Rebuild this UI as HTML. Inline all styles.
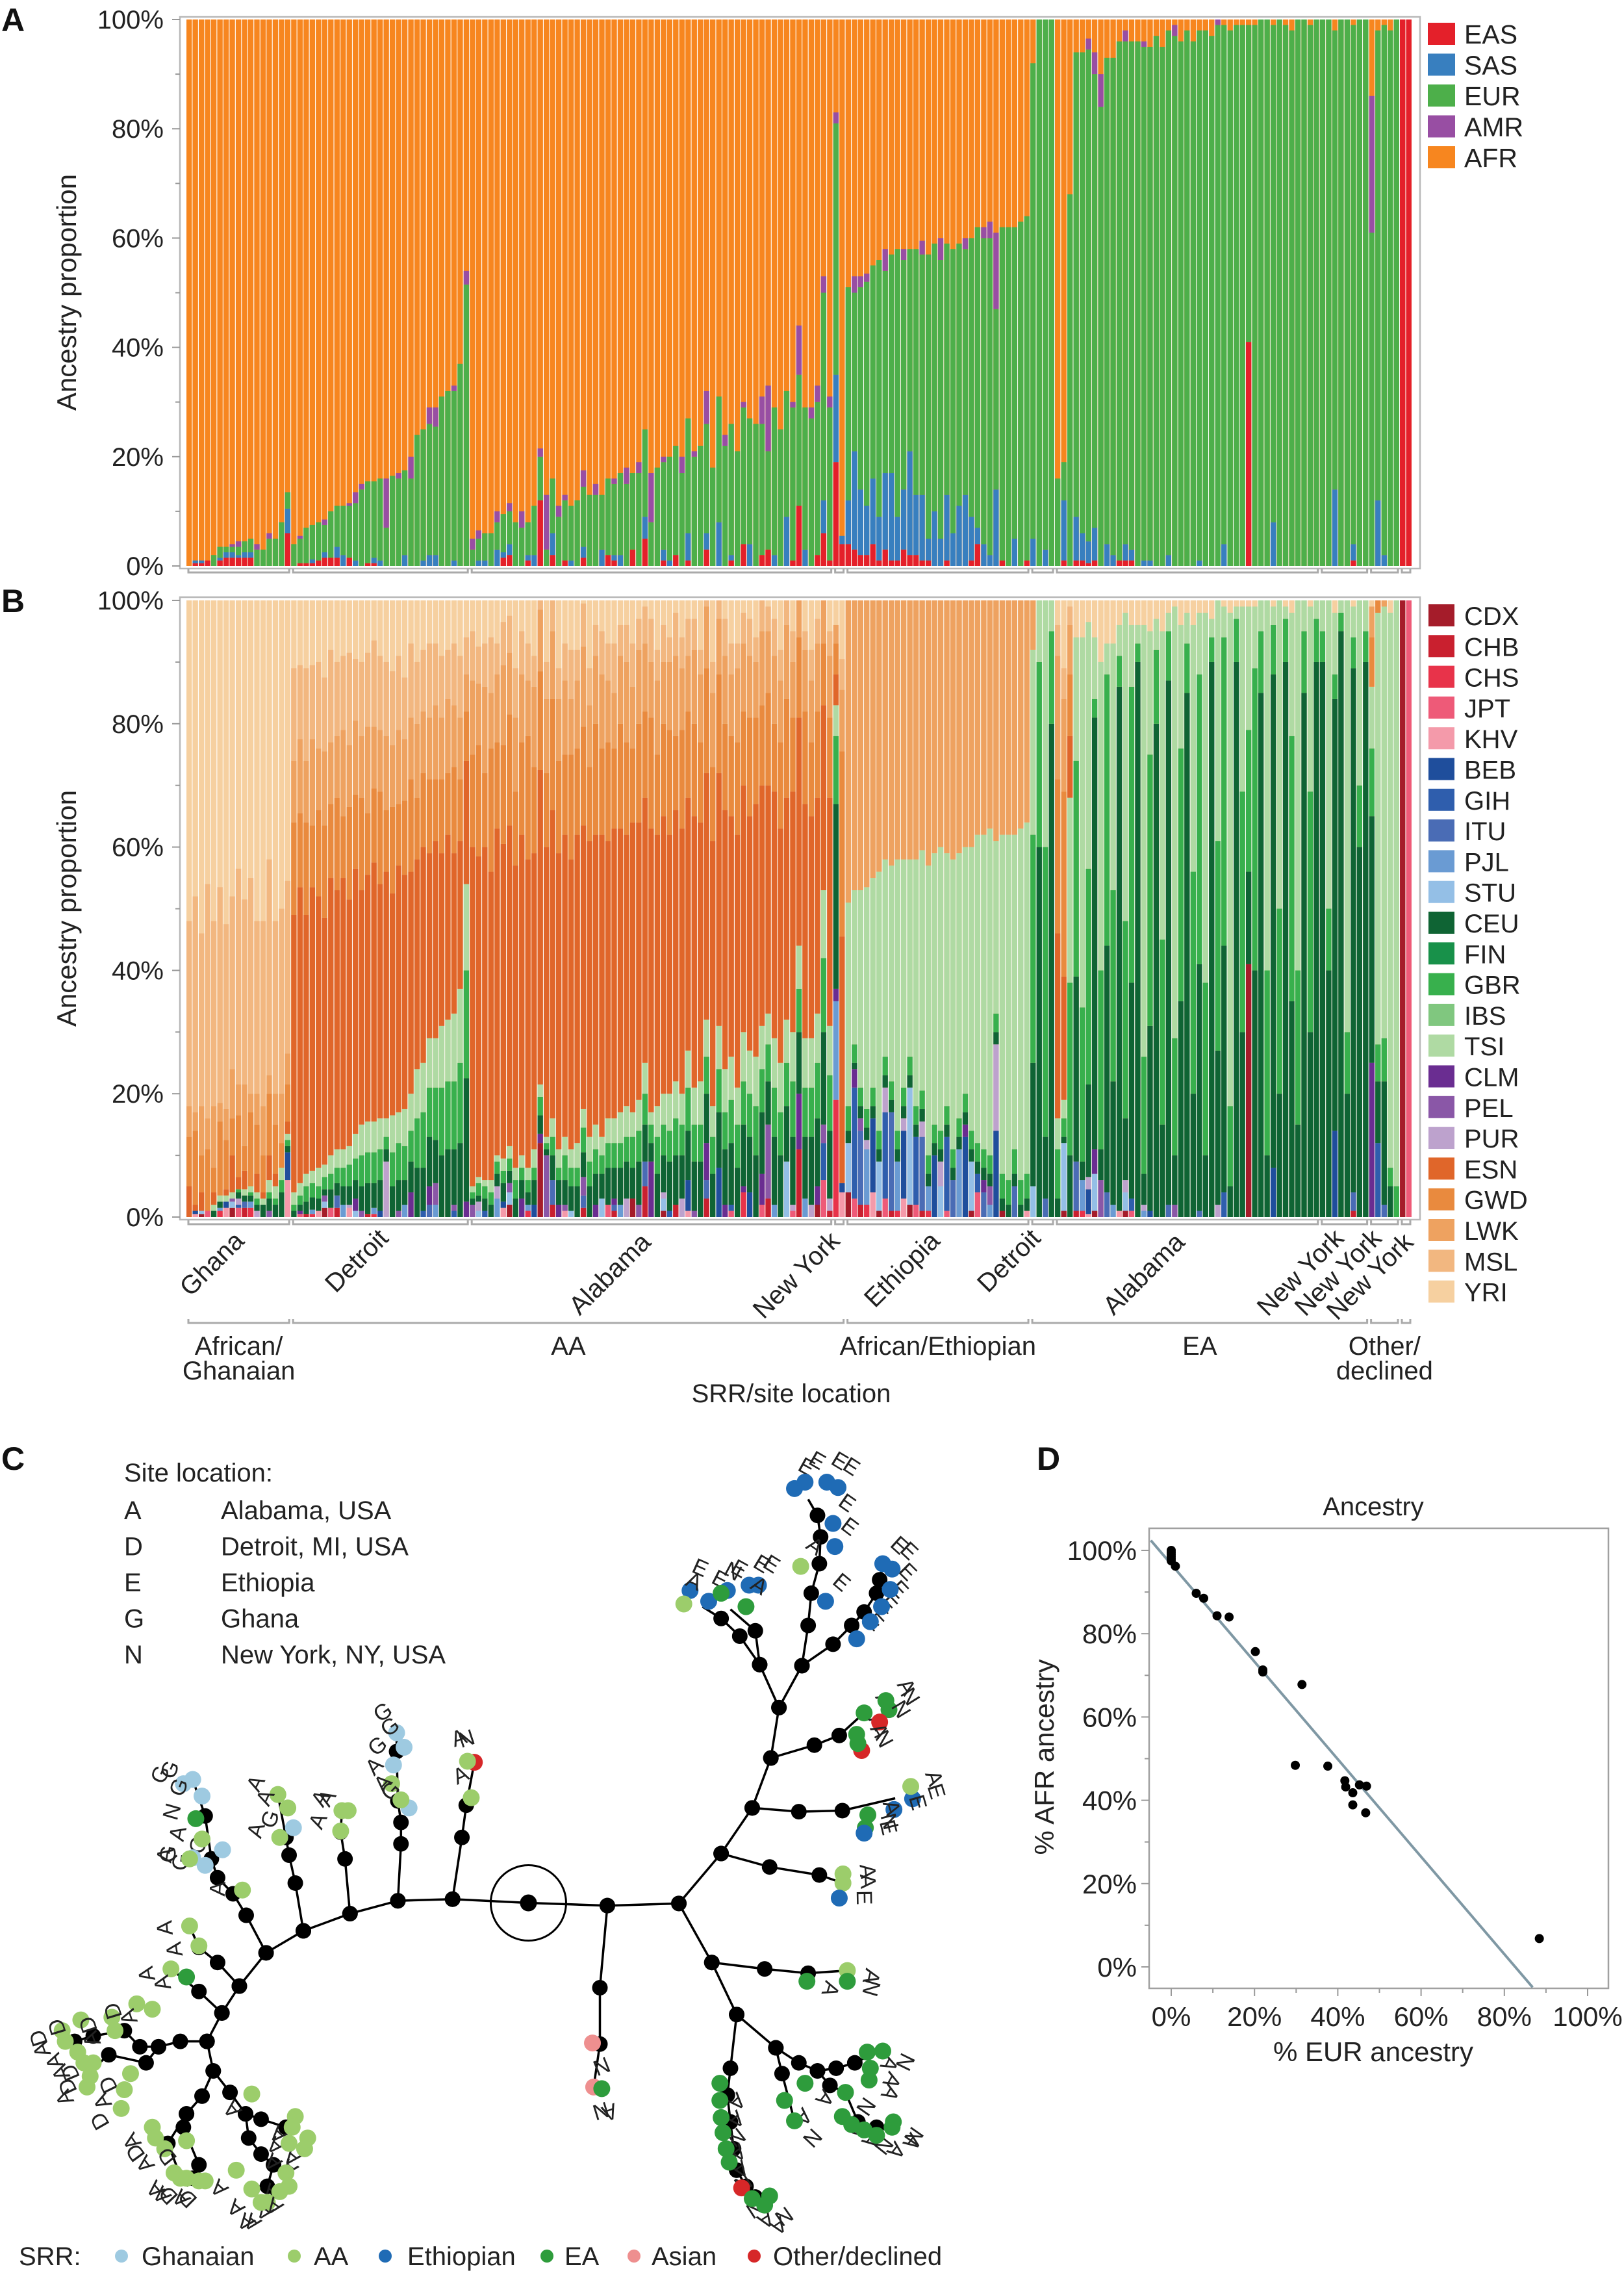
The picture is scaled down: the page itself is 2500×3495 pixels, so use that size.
<!DOCTYPE html>
<html><head><meta charset="utf-8">
<style>
html,body{margin:0;padding:0;background:#fff;}
svg{display:block;font-family:"Liberation Sans",Arial,sans-serif;}
</style></head>
<body>
<svg id="fig" xmlns="http://www.w3.org/2000/svg" width="2500" height="3495" viewBox="0 0 2500 3495"></svg>
<script>
// ---------- Panel A data (percent) ----------
const groupSizes=[17,29,59,2,30,4,43,8,5,2];
const siteLabels=["Ghana","Detroit","Alabama","New York","Ethiopia","Detroit","Alabama","New York","New York","New York"];
const superSizes=[17,90,30,55,5,2];
const superLabels=[["African/","Ghanaian"],["AA"],["African/Ethiopian"],["EA"],["Other/","declined"],[]];
const z=n=>Array(n).fill(0);
const eas=[
0,.5,.5,1,0,1,1.5,1.5,1.5,1.5,1.5,0,0,0,0,0,6,
0,.5,.5,.5,1,1.5,1.5,1.5,0,1.5,0,0,.5,.5,0,0,0,0,0,0,0,0,0,0,0,0,0,0,0,
0,0,0,0,0,1.5,2,0,0,1,0,12,0,2,0,1,0,0,1.5,0,0,0,2,1,0,0,3,0,5,0,0,1,0,2,0,1,0,0,3,0,0,0,1,0,4,0,0,2,3,0,0,0,1,11,0,0,2,6,1,
19,4,
4,3,2,2,4,1,3,1,1,3,2,2,1,1,0,0,1,0,0,0,1,4,0,0,0,1,0,0,0,1,
0,0,0,0,
0,1,0,1,1,.5,1,0,0,0,1,1,1,0,0,0,0,0,0,0,0,0,0,0,0,0,0,0,0,0,0,41,0,0,0,0,0,0,0,0,0,0,0,
0,0,0,0,0,1,0,0,
0,0,0,0,0,
100,100];
const sas=[
0,.5,.5,0,0,.5,1,1,.5,1,1,0,0,0,0,0,4.5,
0,0,0,.7,0,1,0,2,2,0,1,0,0,1,1,0,0,0,2,0,0,1,2,2,0,0,1,0,0,
0,1,1,0,3,1,2,0,0,1,2,0,0,4,0,0,1,0,2,0,0,3,0,1,2,0,0,0,4,0,0,2,1,0,0,5,0,0,3,0,8,0,1,0,0,4,0,0,0,2,0,9,0,0,3,0,0,6,0,
16,1.5,
8,18,12,9,12,8,14,16,8,11,19,11,12,4,10,5,12,6,11,13,8,3,4,2,14,0,0,5,0,0,
5,0,3,0,
0,11,0,8,5,4,6,0,4,2,0,3,2,0,1,1,0,0,2,0,0,0,0,1,0,0,0,4,0,0,0,0,0,0,0,8,0,0,0,0,0,0,0,
0,0,14,0,0,3,0,0,
0,12,2,0,0,
0,0];
const eur=[
0,0,0,0,2,2,1,1,1.5,2,2.5,3,3,5,5,8,3,
4,4.5,6.5,6.3,7,5,8.5,7.5,9,9.5,10.5,14,15,14,15,7,16.5,16,15.5,16,24,24,24,23.5,31,32,31,37,51.5,
3,4,5,6,5,7,6,8,7,6,9,8,3,10,9,11,10,12,11,13,13,10,14,13,15,15,14,17,16,8,18,16,19,20,17,21,20,22,20,18,23,22,24,21,25,23,26,24,18,27,25,23,28,24,26,27,28,38,28,
46,0,
39,29,37,41,39,47,37,40,49,42,37,45,44,52,49,51,46,52,48,45,51,55,56,58,33,61,62,57,63,63,
87,100,97,100,
16,7,68,85,88,90,83,84,89,91,95,92,93,96,94,94,97,95,96,97,96,98,96,97,98,97,99,95,98,99,99,58,99,100,100,91,100,99,98,100,100,99,100,
100,100,84,100,100,95,100,100,
61,86,97,98,100,
0,0];
const amr=[
0,0,0,0,0,0,0,.5,1,0,0,1,0,1,0,0,0,
0,.5,0,0,0,1,0,0,0,.5,2,1,0,0,0,9,0,1,0,4,0,0,3,3.5,0,0,1,0,2.5,
2,1.5,0,0,2,0,1.5,0,3,0,0,1.5,10,0,2,1,0,0,3,0,2,0,0,1,0,3,0,2,0,9,0,1,0,0,3,0,1,0,6,0,0,2,0,0,1,0,0,5,12,0,0,0,1,9,0,2,3,3,2,
2,0,
0,3,2,1.5,0,0,4,0,0,2,0,0,2.5,0,0,4,0,0,0,2,0,0,2,3,14,0,0,0,0,0,
0,0,0,0,
0,0,0,0,0,2,4,6,0,0,0,2,0,0,1,0,0,0,0,2,0,0,0,0,0,0,2,0,0,0,0,0,0,0,0,0,0,0,0,0,0,0,0,
0,0,0,0,0,0,0,0,
25,0,0,0,0,
0,0];
// ---------- Panel B data (percent, sub-populations) ----------
const bCeu=[
0,0,0,0,1,1,0,0,1,1,1,1,2,2,2,4,1,
1,1,2,2,2,1,3,2,3,3,3,4,5,4,5,2,5,5,4,5,8,7,8,7,10,11,9,12,20,
1,1,2,2,2,3,2,3,3,2,4,3,1,4,4,4,4,5,4,5,5,4,6,5,6,6,5,7,6,3,7,6,8,8,7,8,8,9,8,7,9,9,10,8,10,9,10,10,7,11,10,9,11,10,10,11,11,15,11,
30,0,
2,1,2,2,2,2,2,2,2,2,2,2,2,2,2,2,2,2,2,2,2,2,2,2,2,2,2,2,2,2,
20,60,10,80,
3,1,10,30,3,15,70,5,40,20,85,10,35,90,5,30,80,15,85,8,35,85,20,40,10,90,25,40,5,90,30,15,40,85,10,80,20,90,35,15,85,30,90,
90,40,70,95,20,85,60,90,
40,10,20,5,0,
0,0];
const bTsi=[
0,0,0,0,1,1,1,1,0,1,1,1,1,2,2,2,1,
2,2,2,2,3,2,3,3,3,3,4,5,5,5,5,3,6,5,6,6,8,8,8,8,10,10,11,12,14,
1,1,1,2,1,2,2,2,2,2,3,2,1,3,3,3,3,4,3,4,4,3,4,4,5,5,4,5,5,2,5,5,6,6,5,6,6,7,6,5,7,7,7,6,8,7,8,7,5,8,8,7,8,7,8,8,8,11,8,
5,0,
33,25,32,36,34,42,32,35,44,37,32,40,39,47,44,46,41,47,43,40,46,50,51,53,28,55,56,51,57,57,
30,10,40,5,
5,3,30,20,60,40,10,50,5,40,5,50,10,3,70,20,5,50,3,70,20,5,40,10,60,3,40,5,80,2,30,20,10,5,60,3,50,2,20,60,5,30,3,
5,50,10,2,70,5,30,5,
10,70,70,90,95,
0,0];
const bEsn=[
5,1,3,0,2,0,1,6,2,3,0,3,1,4,2,0,2,
45,48,42,46,44,40,45,42,44,40,43,38,40,42,38,40,36,40,38,36,34,35,30,32,28,30,26,24,20,
55,52,54,50,53,51,52,49,52,50,48,51,47,50,48,49,47,50,46,48,47,49,45,47,46,44,47,45,43,46,44,45,42,44,43,41,44,42,40,43,41,42,39,41,40,38,41,39,37,40,38,36,39,37,38,36,35,30,37,
5,40,
...z(30),
0,0,0,0,
30,20,10,...z(40),
...z(8),
0,0,0,0,0,
0,0];
const bGwd=[
8,12,6,10,4,12,8,6,10,4,12,8,6,10,8,4,6,
15,12,15,10,14,15,12,15,10,15,12,15,10,12,15,10,14,10,12,15,10,12,12,10,12,10,14,10,8,
15,18,12,20,14,16,18,12,15,20,14,16,12,18,15,13,17,14,16,12,18,14,16,13,17,15,12,16,14,18,13,15,17,12,16,14,15,13,17,12,16,14,13,15,12,16,14,13,15,11,14,16,12,13,15,12,14,10,13,
5,30,
...z(30),
0,0,0,0,
25,30,10,...z(40),
...z(8),
8,3,0,0,0,
0,0];
const bLwk=[
5,3,8,5,10,3,5,8,5,10,3,5,8,3,5,8,5,
10,12,10,14,10,12,10,10,14,10,12,10,14,10,10,12,10,12,10,10,12,10,10,12,10,12,10,10,6,
12,10,14,9,11,13,10,12,11,9,13,10,12,11,10,12,9,11,13,10,11,12,10,9,11,13,10,12,11,9,12,10,11,13,10,9,12,11,10,12,9,11,10,12,11,10,9,12,10,11,10,12,9,11,10,10,11,8,10,
3,10,
49,47,47,46.5,45,44,42,43,42,42,42,42,40.5,43,41,40,41,42,41,40,40,38,38,37,39,38,38,38,37,36,
8,0,0,0,
20,15,8,...z(40),
...z(8),
5,2,1,0,0,
0,0];
const bMsl=[
30,35,28,38,30,35,30,28,35,30,35,28,30,35,28,30,28,
15,12,15,12,14,12,15,12,12,15,10,12,12,14,12,12,12,12,10,12,10,10,12,10,10,8,10,10,6,
8,6,7,9,5,7,6,8,7,6,5,8,6,7,5,6,8,5,7,6,5,7,6,8,5,6,7,5,6,7,5,6,4,7,5,6,5,4,6,5,4,6,5,4,5,6,4,5,4,6,5,4,5,4,3,5,4,3,4,
0,5,
...z(30),
0,0,0,0,
5,5,3,...z(40),
...z(8),
0,0,0,0,0,
0,0];
// ---------- Panel D data ----------
const dEur=[0,0,0,0,0,0,1,6,7.8,11,13.9,20.2,22,22,31.4,29.8,37.6,41.7,41.9,43.6,43.6,45.2,46.9,46.7,88.4];
const dAfr=[100,99.5,99,98.5,98,97.5,96.2,89.7,88.5,84.3,84,75.7,71.3,70.8,67.8,48.4,48.2,44.7,43.2,41.8,38.9,43.7,43.4,37,6.8];
const fitX=[-4.9,86.8];
const fitY=[102.4,-4.9];
const dTicks=[0,20,40,60,80,100];

const NS='http://www.w3.org/2000/svg';
const svg=document.getElementById('fig');
function mk(tag,a,parent){const e=document.createElementNS(NS,tag);for(const k in a)e.setAttribute(k,a[k]);(parent||svg).appendChild(e);return e;}
function txt(s,a,parent){const e=mk('text',a,parent);e.textContent=s;return e;}

const cA={EAS:'#e4202a',SAS:'#387fbf',EUR:'#4daf4a',AMR:'#984ea3',AFR:'#f7861f'};
const cB={CDX:'#a51c2a',CHB:'#c9202f',CHS:'#e8334a',JPT:'#ee5a78',KHV:'#f49aaa',BEB:'#1f4e9c',GIH:'#2f5ead',ITU:'#4a6cb5',PJL:'#6a9bd3',STU:'#94bfe6',CEU:'#0f6434',FIN:'#18914a',GBR:'#38b04d',IBS:'#80c77f',TSI:'#afdaa3',CLM:'#6a2d91',PEL:'#8a57a7',PUR:'#bda2cd',ESN:'#e0662a',GWD:'#e98a3e',LWK:'#eea260',MSL:'#f2b780',YRI:'#f6d0a0'};

const N=eur.length, X0=287, X1=2174, bw=(X1-X0)/N;
const xBar=i=>X0+i*bw;
const yA=v=>871-v*(871-30)/100;
const yB=v=>1873-v*(1873-924)/100;

function drawStack(i,segs,topColor,yf,g,name){
  const x=xBar(i);
  const bg=mk('rect',{x:x.toFixed(2),y:yf(100),width:(bw-1.1).toFixed(2),height:yf(0)-yf(100),fill:topColor},g);
  
  
  let c=0;
  for(const [v,col] of segs){
    if(!(v>0))continue;
    const nv=Math.min(100,c+v); if(nv<=c)continue;
    const r=mk('rect',{x:x.toFixed(2),y:yf(nv).toFixed(2),width:(bw-1.1).toFixed(2),height:(yf(c)-yf(nv)).toFixed(2),fill:col},g);
    
    
    c=nv;
  }
}
function yAxis(yf,prefix){
  for(let v=0;v<=100;v+=10){
    const major=v%20===0;
    const t=mk('line',{x1:major?265:270,x2:277,y1:yf(v),y2:yf(v),stroke:'#999','stroke-width':2});
    
    
    if(major){const l=txt(v+'%',{x:252,y:yf(v)+14,'text-anchor':'end','font-size':40,fill:'#222'});
      
      }
  }
}
function frame(y0,y1,prefix){
  const f=mk('rect',{x:277,y:y0,width:2186-277,height:y1-y0,fill:'none',stroke:'#b8b8b8','stroke-width':2.5});
  
  
}
function brackets(sizes,y,prefix){
  let s=0;
  for(const n of sizes){
    const a=xBar(s)+3,b=xBar(s+n)-3;
    const p=mk('path',{d:`M${a},${y-6}V${y}H${b}V${y-6}`,fill:'none',stroke:'#aaa','stroke-width':3});
    
    
    s+=n;
  }
}

// ---------- Panel A ----------
const gA=mk('g',{});


for(let i=0;i<N;i++){
  drawStack(i,[[eas[i],cA.EAS],[sas[i],cA.SAS],[eur[i],cA.EUR],[amr[i],cA.AMR]],cA.AFR,yA,gA,'bar-a');
}
frame(26,875,'panel-a');
yAxis(yA,'panel-a');
brackets(groupSizes,881,'panel-a');
let lab=txt('A',{x:2,y:48,'font-size':50,'font-weight':'bold',fill:'#111'});


lab=txt('Ancestry proportion',{x:0,y:0,transform:'translate(117,450) rotate(-90)','text-anchor':'middle','font-size':42,fill:'#222'});


['EAS','SAS','EUR','AMR','AFR'].forEach((k,j)=>{
  const cy=52+j*47.5;
  const r=mk('rect',{x:2198,y:cy-17,width:42,height:34,fill:cA[k]});
  
  
  const t=txt(k,{x:2254,y:cy+15,'font-size':41,fill:'#222'});
  
  
});

// ---------- Panel B ----------
const easCols=[cB.CHS,cB.KHV,cB.CDX,cB.JPT,cB.CHB];
const sasCols=[cB.PJL,cB.BEB,cB.STU,cB.GIH,cB.ITU];
const amrCols=[cB.CLM,cB.PEL,cB.PUR];
const gB=mk('g',{});


for(let i=0;i<N;i++){
  const gbr=Math.max(0,eur[i]-bCeu[i]-bTsi[i]);
  drawStack(i,[[eas[i],easCols[i%5]],[sas[i],sasCols[i%5]],[amr[i],amrCols[i%3]],
    [bCeu[i],cB.CEU],[gbr,cB.GBR],[bTsi[i],cB.TSI],[bEsn[i],cB.ESN],[bGwd[i],cB.GWD],[bLwk[i],cB.LWK],[bMsl[i],cB.MSL]],cB.YRI,yB,gB,'bar-b');
}
frame(919,1877,'panel-b');
yAxis(yB,'panel-b');
brackets(groupSizes,1884,'panel-b');
lab=txt('B',{x:2,y:942,'font-size':50,'font-weight':'bold',fill:'#111'});


lab=txt('Ancestry proportion',{x:0,y:0,transform:'translate(117,1398) rotate(-90)','text-anchor':'middle','font-size':42,fill:'#222'});


Object.keys(cB).forEach((k,j)=>{
  const cy=947+j*47.3;
  const r=mk('rect',{x:2199,y:cy-17,width:40,height:34,fill:cB[k]});
  
  
  const t=txt(k,{x:2254,y:cy+15,'font-size':40,fill:'#222'});
  
  
});
// site labels
(function(){
  const ends=[[378,1912],[600,1908],[1004,1914],[1295,1912],[1449,1912],[1604,1908],[1826,1914],[2071,1908],[2129,1908],[2178,1914]];
  groupSizes.forEach((n,j)=>{
    const [ex,ey]=ends[j];
    const t=txt(siteLabels[j],{x:0,y:0,transform:`translate(${ex},${ey}) rotate(-45)`,'text-anchor':'end','font-size':40,fill:'#222'});
    
    
  });
  brackets(superSizes,2036,'panel-b-srr');
  let s2=0;
  superSizes.forEach((n,j)=>{
    const cx=(xBar(s2)+xBar(s2+n))/2;
    superLabels[j].forEach((line,k)=>{
      const t=txt(line,{x:cx,y:2085+k*38,'text-anchor':'middle','font-size':40,fill:'#222'});
      
      
    });
    s2+=n;
  });
  const t=txt('SRR/site location',{x:1218,y:2158,'text-anchor':'middle','font-size':40,fill:'#222'});
  
  
})();

// ---------- Panel C (tree) ----------
const tx=v=>v*0.957, ty=v=>2200+v*0.826;
const treeLines=[
[[850,882],[728,875],[640,878],[563,902],[488,934],[428,975],[385,1037],[357,1087],[333,1140],[343,1195],[325,1242],[300,1275],[270,1330],[290,1390]],
[[850,882],[977,887],[1092,883],[1160,790],[1210,705],[1240,612],[1253,518],[1222,438],[1190,385],[1160,352],[1130,330]],
[[1253,518],[1290,440],[1300,365],[1305,305],[1318,250],[1320,200],[1315,160],[1300,130]],
[[1290,440],[1340,400],[1370,365],[1390,340],[1410,305],[1415,280],[1420,255]],
[[1240,612],[1310,588],[1350,570],[1390,528]],
[[1210,705],[1285,712],[1355,710],[1440,687]],
[[1160,790],[1238,815],[1318,830],[1356,845]],
[[1092,883],[1145,993],[1185,1090],[1175,1190],[1170,1240],[1175,1290],[1180,1340],[1185,1380],[1200,1410],[1215,1430],[1238,1428]],
[[1145,993],[1230,1005],[1300,1013],[1363,1008]],
[[1185,1090],[1248,1152],[1285,1180],[1315,1195],[1345,1190],[1375,1180],[1410,1160]],
[[1248,1152],[1258,1200],[1278,1288]],
[[1315,1195],[1335,1222],[1360,1235],[1380,1290],[1410,1300],[1435,1300]],
[[977,887],[965,1040],[965,1145],[955,1225]],
[[728,875],[743,760],[750,700],[763,620]],
[[640,878],[645,772],[645,732],[640,692],[638,600],[638,565]],
[[563,902],[555,800],[548,750],[550,710]],
[[488,934],[475,845],[465,793],[460,760],[447,680]],
[[428,975],[396,905],[375,865],[350,835],[340,800],[330,720],[310,652]],
[[385,1037],[350,993],[320,965],[305,925]],
[[357,1087],[320,1047],[275,1005]],
[[333,1140],[290,1140],[255,1150],[225,1150],[200,1120],[150,1130],[120,1140],[100,1120]],
[[255,1150],[235,1180],[175,1165],[140,1200]],
[[343,1195],[370,1235],[395,1275],[420,1285],[460,1300],[480,1290]],
[[395,1275],[400,1320],[420,1350],[440,1370],[430,1410],[440,1430]],
[[300,1275],[295,1300],[320,1370],[310,1395],[300,1410]],
[[1222,438],[1215,375],[1175,335]]];
const leaves=[
[1278,110,'e'],[1295,98,'e'],[1330,98,'e'],[1348,108,'e'],[1340,175,'e'],[1343,218,'e'],[1328,320,'e'],[1288,255,'a'],[1378,390,'e'],[1400,358,'e'],[1418,330,'e'],[1432,298,'e'],[1435,260,'e'],[1420,250,'e'],
[1110,300,'e'],[1100,325,'a'],[1140,320,'e'],[1170,300,'e'],[1205,290,'e'],[1220,290,'e'],[1200,330,'x'],[1160,305,'x'],
[1390,528,'x'],[1425,505,'x'],[1430,522,'x'],[1378,568,'x'],[1386,598,'o'],[1415,545,'o'],[1380,585,'x'],
[1468,688,'e'],[1465,665,'a'],[1438,708,'e'],[1396,718,'x'],[1392,742,'x'],[1390,752,'e'],
[1356,828,'a'],[1356,845,'a'],[1350,873,'e'],
[1363,1008,'a'],[1363,1028,'x'],[1298,1028,'x'],
[1395,1160,'x'],[1420,1158,'x'],[1400,1190,'x'],[1398,1212,'x'],[1360,1235,'x'],[1295,1218,'x'],[1262,1250,'x'],[1278,1288,'x'],[1355,1280,'x'],[1370,1295,'x'],[1390,1305,'x'],[1410,1315,'x'],[1435,1300,'x'],[1437,1290,'x'],
[1158,1218,'x'],[1158,1250,'x'],[1160,1282,'x'],[1163,1310,'x'],[1168,1340,'x'],[1173,1365,'x'],[1193,1413,'o'],[1210,1433,'x'],[1238,1428,'x'],[1230,1445,'x'],
[953,1143,'s'],[955,1225,'s'],[968,1228,'x'],
[758,686,'a'],[763,620,'o'],[752,618,'a'],
[630,660,'a'],[633,625,'g'],[638,565,'g'],[650,592,'g'],[658,705,'g'],[645,690,'a'],
[548,748,'a'],[550,710,'a'],[560,710,'a'],
[450,760,'a'],[447,680,'a'],[463,705,'a'],[472,742,'g'],
[295,660,'g'],[310,652,'g'],[325,683,'g'],[358,783,'g'],[310,798,'g'],[330,812,'g'],[315,725,'x'],[325,763,'a'],[390,858,'a'],[305,800,'a'],
[305,925,'a'],[320,962,'a'],[275,1005,'a'],[300,1020,'x'],
[100,1120,'a'],[105,1140,'a'],[130,1100,'a'],[135,1180,'a'],[145,1205,'a'],[140,1225,'a'],[180,1095,'a'],[185,1120,'a'],[220,1070,'a'],[245,1080,'a'],[210,1200,'a'],[200,1230,'a'],[195,1265,'a'],[125,1160,'a'],[150,1180,'a'],
[245,1300,'a'],[250,1320,'a'],[265,1340,'a'],[300,1325,'a'],[280,1385,'a'],[300,1395,'a'],[320,1400,'a'],[330,1400,'a'],[290,1395,'a'],
[405,1238,'a'],[475,1280,'a'],[470,1300,'a'],[495,1320,'a'],[490,1340,'a'],[465,1330,'a'],[460,1385,'a'],[380,1380,'a'],[405,1415,'a'],[430,1440,'a'],[450,1420,'a'],[465,1410,'a'],[420,1440,'a']];
const leafCol={g:'#9ecae1',a:'#9ccd6b',e:'#1f6bb5',x:'#2e9c3c',s:'#ee8f8f',o:'#d62728'};
const leafLet={g:'G',a:'A',e:'E',x:'A',s:'N',o:'N'};
const gC=mk('g',{});


treeLines.forEach(pl=>{
  const p=mk('polyline',{points:pl.map(q=>tx(q[0]).toFixed(1)+','+ty(q[1]).toFixed(1)).join(' '),fill:'none',stroke:'#000','stroke-width':3.5},gC);
  
  
});
treeLines.forEach(pl=>pl.forEach((q,k)=>{
  if(k===pl.length-1&&pl.length>2)return;
  const c=mk('circle',{cx:tx(q[0]),cy:ty(q[1]),r:12,fill:'#000'},gC);
  
  
}));
leaves.forEach((L,k)=>{
  const cx=tx(L[0]),cy=ty(L[1]);
  const c=mk('circle',{cx:cx,cy:cy,r:13,fill:leafCol[L[2]]},gC);
  
  
  let dx=L[0]-850,dy=L[1]-882;const d=Math.hypot(dx,dy)||1;dx/=d;dy/=d;
  let letter=leafLet[L[2]];
  if(L[2]==='a'&&L[0]<350&&L[1]>1050&&k%2===0)letter='D';
  if(L[2]==='x'&&k%3===0)letter='N';
  const ang=Math.atan2(dy,dx)*180/Math.PI+90;
  const t=txt(letter,{x:0,y:0,transform:`translate(${(cx+dx*38).toFixed(1)},${(cy+dy*38).toFixed(1)}) rotate(${ang.toFixed(0)})`,'text-anchor':'middle','dominant-baseline':'central','font-size':34,fill:'#222'},gC);
  
  
});
let rc=mk('circle',{cx:tx(850),cy:ty(882),r:58,fill:'none',stroke:'#000','stroke-width':3});


rc=mk('circle',{cx:tx(850),cy:ty(882),r:13,fill:'#000'});


lab=txt('C',{x:2,y:2262,'font-size':50,'font-weight':'bold',fill:'#111'});


lab=txt('Site location:',{x:191,y:2280,'font-size':40,fill:'#222'});


[['A','Alabama, USA'],['D','Detroit, MI, USA'],['E','Ethiopia'],['G','Ghana'],['N','New York, NY, USA']].forEach((r,j)=>{
  const y=2338+j*55.5;
  const a=txt(r[0],{x:191,y:y,'font-size':40,fill:'#222'});
  
  
  const b=txt(r[1],{x:340,y:y,'font-size':40,fill:'#222'});
  
  
});
lab=txt('SRR:',{x:29,y:3486,'font-size':40,fill:'#222'});


[['Ghanaian','g',187,218],['AA','a',453,483],['Ethiopian','e',593,627],['EA','x',842,869],['Asian','s',976,1003],['Other/declined','o',1161,1190]].forEach(e=>{
  const c=mk('circle',{cx:e[2],cy:3472,r:10,fill:leafCol[e[1]]});
  
  
  const t=txt(e[0],{x:e[3],y:3486,'font-size':40,fill:'#222'});
  
  
});

// ---------- Panel D ----------
const xD=v=>1803+v*6.41, yD=v=>3027-v*6.41;
lab=txt('D',{x:1596,y:2262,'font-size':50,'font-weight':'bold',fill:'#111'});


lab=txt('Ancestry',{x:2114,y:2332,'text-anchor':'middle','font-size':40,fill:'#222'});


const fr=mk('rect',{x:1769,y:2352,width:707,height:708,fill:'none',stroke:'#a0a0a0','stroke-width':2.5});


for(let v=0;v<=100;v+=10){
  const major=v%20===0;
  const a=mk('line',{x1:xD(v),x2:xD(v),y1:3060,y2:major?3072:3067,stroke:'#999','stroke-width':2});
  
  
  const b=mk('line',{x1:major?1757:1762,x2:1769,y1:yD(v),y2:yD(v),stroke:'#999','stroke-width':2});
  
  
}
dTicks.forEach(v=>{
  const a=txt(v+'%',{x:xD(v),y:3118,'text-anchor':'middle','font-size':42,fill:'#222'});
  
  
  const b=txt(v+'%',{x:1750,y:yD(v)+15,'text-anchor':'end','font-size':42,fill:'#222'});
  
  
});
lab=txt('% EUR ancestry',{x:2114,y:3172,'text-anchor':'middle','font-size':42,fill:'#222'});


lab=txt('% AFR ancestry',{x:0,y:0,transform:'translate(1622,2704) rotate(-90)','text-anchor':'middle','font-size':42,fill:'#222'});


const fl=mk('line',{x1:xD(fitX[0]),y1:yD(fitY[0]),x2:xD(fitX[1]),y2:yD(fitY[1]),stroke:'#7f98a4','stroke-width':4});


dEur.forEach((v,i)=>{
  const c=mk('circle',{cx:xD(v),cy:yD(dAfr[i]),r:7,fill:'#000'});
  
  
});
</script>
</body></html>
